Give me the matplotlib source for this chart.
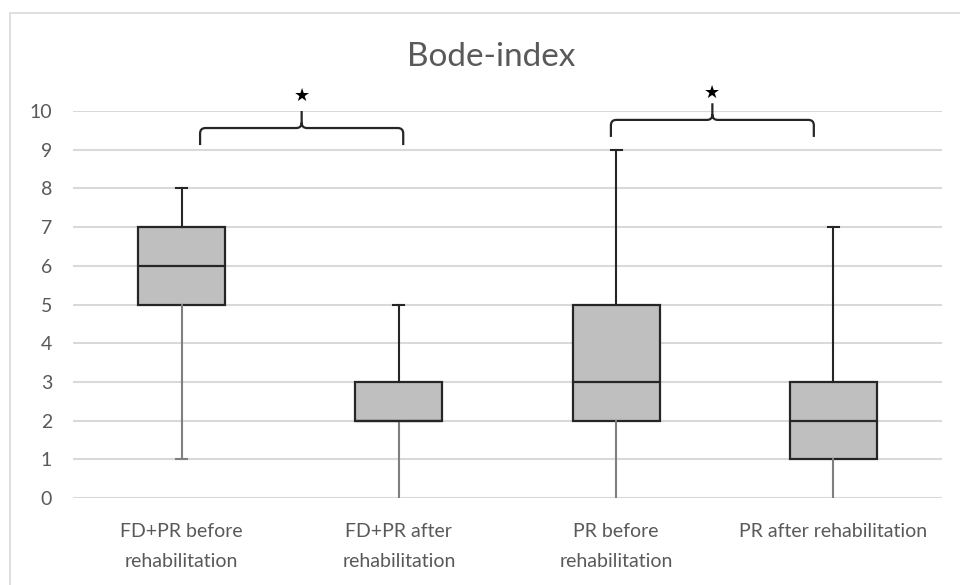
import matplotlib
matplotlib.use("Agg")
import matplotlib.pyplot as plt
from matplotlib.path import Path
from matplotlib.patches import PathPatch, Rectangle

categories = ["FD+PR before\nrehabilitation", "FD+PR after\nrehabilitation",
              "PR before\nrehabilitation", "PR after rehabilitation"]
mins = [1, 0, 0, 0]
q1s = [5, 2, 2, 1]
medians = [6, 2, 3, 2]
q3s = [7, 3, 5, 3]
maxs = [8, 5, 9, 7]
title = "Bode-index"
yticks = list(range(0, 11))

# significance brackets: (left, right, bottom, horizontal, tip, star y)
brackets = [(0.085, 1.02, 9.12, 9.56, 10.0, 10.38),
            (1.976, 2.91, 9.33, 9.77, 10.2, 10.48)]

TXT = "#595959"
plt.rcParams['font.family'] = ['Lato', 'DejaVu Sans']

fig = plt.figure(figsize=(9.6, 5.85), dpi=100)
ax = fig.add_axes([73/960, 1-498/585, (942-73)/960, (498-111)/585])

stats = []
for i in range(len(categories)):
    stats.append(dict(whislo=mins[i], q1=q1s[i], med=medians[i], q3=q3s[i],
                      whishi=maxs[i], fliers=[]))
pos = list(range(len(categories)))
bp = ax.bxp(stats, positions=pos, widths=0.4, patch_artist=True,
            showfliers=False, capwidths=0.05,
            boxprops=dict(facecolor="#bfbfbf", edgecolor="#262626", linewidth=1.6),
            medianprops=dict(color="#262626", linewidth=1.6),
            whiskerprops=dict(linewidth=1.5),
            capprops=dict(linewidth=1.5), zorder=3)
for i in range(len(categories)):
    lw, uw = bp['whiskers'][2*i], bp['whiskers'][2*i+1]
    lc, uc = bp['caps'][2*i], bp['caps'][2*i+1]
    lw.set_color("#7f7f7f"); lc.set_color("#7f7f7f")
    uw.set_color("#262626"); uc.set_color("#262626")
    if mins[i] == 0:
        lc.set_visible(False)

ax.set_xlim(-0.5, len(categories) - 0.5)
ax.set_ylim(0, 10)
ax.set_yticks(yticks)
ax.set_xticks(pos)
ax.set_xticklabels(categories, color=TXT, fontsize=14, linespacing=1.95)
ax.tick_params(axis='y', length=0, pad=15, labelsize=14, labelcolor=TXT)
ax.tick_params(axis='x', length=0, pad=18)
for lab in ax.get_yticklabels():
    lab.set_color(TXT)
ax.grid(axis='y', color="#d9d9d9", linewidth=1.5, zorder=0)
ax.set_axisbelow(True)
for s in ax.spines.values():
    s.set_visible(False)

fig.text(491/960, 1 - 57/585, title, color=TXT, fontsize=24,
         ha="center", va="center")

rx, ry = 0.025, 0.14
for (x0, x1, yb, yh, yt, ys) in brackets:
    xc = (x0 + x1) / 2
    verts = [(x0, yb), (x0, yh - ry), (x0, yh), (x0 + rx, yh),
             (xc - rx, yh), (xc, yh), (xc, yh + ry), (xc, yt),
             (xc, yh + ry), (xc, yh), (xc + rx, yh),
             (x1 - rx, yh), (x1, yh), (x1, yh - ry), (x1, yb)]
    codes = [Path.MOVETO, Path.LINETO, Path.CURVE3, Path.CURVE3,
             Path.LINETO, Path.CURVE3, Path.CURVE3, Path.LINETO,
             Path.MOVETO, Path.CURVE3, Path.CURVE3,
             Path.LINETO, Path.CURVE3, Path.CURVE3, Path.LINETO]
    ax.add_patch(PathPatch(Path(verts, codes), facecolor="none",
                           edgecolor="#262626", linewidth=1.6, clip_on=False, zorder=4))
    ax.text(xc, ys, "★", ha="center", va="center", fontsize=13, color="black",
            family=["DejaVu Sans"], clip_on=False)

fig.patches.append(Rectangle((10/960, -0.05), 1.0, 1 - 13/585 + 0.05,
                             transform=fig.transFigure, fill=False,
                             edgecolor="#d9d9d9", linewidth=1.2))

fig.savefig("out.png", dpi=100)
